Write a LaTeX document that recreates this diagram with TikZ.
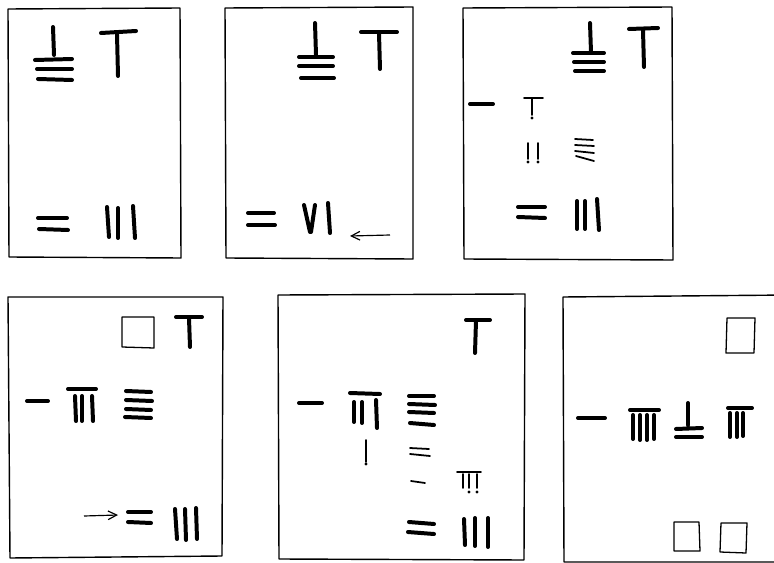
\documentclass[tikz,border=0pt]{standalone}
\usetikzlibrary{arrows.meta}
\tikzset{
  frame/.style={draw=black, line width=1.2pt, line join=round},
  rod/.style={draw=black, line width=3.4pt, line cap=round},
  thinrod/.style={draw=black, line width=1.5pt, line cap=round},
  sq/.style={draw=black, line width=1.1pt, line join=round},
  dotrod/.style={fill=black, circle, inner sep=0pt, minimum size=2.6pt},
  pointer/.style={draw=black, line width=1pt, -{Straight Barb[length=2.6mm, width=2.6mm]}},
}
\begin{document}
\begin{tikzpicture}[x=0.03cm, y=-0.03cm]
  \useasboundingbox (0,0) rectangle (774,563);
  \fill[white] (0,0) rectangle (774,563);

  \draw[frame] (8,9) -- (180,8) -- (181,258) -- (9,257) -- cycle;
  \draw[frame] (225,8) -- (413,7) -- (413,259) -- (226,258) -- cycle;
  \draw[frame] (463,8) -- (672,7) -- (673,260) -- (464,259) -- cycle;
  \draw[frame] (8,297) -- (223,297) -- (222,556) -- (10,558) -- cycle;
  \draw[frame] (278,295) -- (525,294) -- (524,560) -- (279,559) -- cycle;
  \draw[frame] (563,297) -- (790,295) -- (790,562) -- (564,562) -- cycle;

  % panel 1
  \draw[rod] (53,27) -- (54,55);
  \draw[rod] (35,60) -- (72,59) (37,69) -- (72,69) (38,79) -- (72,80);
  \draw[rod] (101,33) -- (136,31) (117,34) -- (118,76);
  \draw[rod] (38,218) -- (67,218) (39,229) -- (68,230);
  \draw[rod] (107,207) -- (109,237) (118,208) -- (118,238) (133,206) -- (135,238);

  % panel 2
  \draw[rod] (315,23) -- (316,55);
  \draw[rod] (299,57) -- (333,57) (299,66) -- (333,66) (301,78) -- (334,78);
  \draw[rod] (361,32) -- (397,32) (379,33) -- (380,69);
  \draw[rod] (248,213) -- (274,213) (248,225) -- (275,225);
  \draw[rod] (304,205) -- (310,232) (315,205) -- (311,232) (328,203) -- (330,233);
  \draw[pointer] (390,235) -- (350,236);

  % panel 3
  \draw[rod] (590,23) -- (591,52);
  \draw[rod] (573,53) -- (604,53) (574,62) -- (604,62) (575,71) -- (604,71);
  \draw[rod] (629,29) -- (658,28) (643,30) -- (644,67);
  \draw[rod] (470,104) -- (493,104);
  \draw[thinrod] (524,98) -- (543,98) (532,99) -- (532,115);
  \node[dotrod] at (532,118) {};
  \draw[thinrod] (528,143) -- (528,159) (538,143) -- (538,159);
  \node[dotrod] at (528,162) {};
  \node[dotrod] at (538,162) {};
  \draw[thinrod] (575,139) -- (593,140) (575,145) -- (594,146) (575,151) -- (594,153) (576,156) -- (594,161);
  \draw[rod] (518,207) -- (545,207) (518,217) -- (545,218);
  \draw[rod] (577,201) -- (577,229) (585,201) -- (585,229) (597,199) -- (599,230);

  % panel 4
  \draw[sq] (122,317) -- (154,317) -- (154,348) -- (122,347) -- cycle;
  \draw[rod] (176,317) -- (202,317) (189,318) -- (190,347);
  \draw[rod] (27,401) -- (48,401);
  \draw[rod] (68,389) -- (96,389);
  \draw[rod] (75,396) -- (76,421) (82,396) -- (82,421) (92,396) -- (93,421);
  \draw[rod] (126,391) -- (151,392) (126,400) -- (152,401) (126,409) -- (151,410) (125,417) -- (151,418);
  \draw[pointer] (84,516) -- (118,515);
  \draw[rod] (128,512) -- (151,512) (128,522) -- (151,523);
  \draw[rod] (175,509) -- (177,539) (185,509) -- (186,540) (196,508) -- (197,539);

  % panel 5
  \draw[rod] (466,320) -- (490,320) (476,321) -- (475,353);
  \draw[rod] (299,403) -- (322,403);
  \draw[rod] (350,393) -- (380,394);
  \draw[rod] (354,402) -- (354,422) (362,402) -- (362,423) (376,400) -- (377,428);
  \draw[rod] (409,396) -- (434,396) (409,404) -- (435,405) (409,412) -- (434,413) (410,423) -- (434,425);
  \draw[thinrod] (366,440) -- (366,462);
  \node[dotrod] at (366,464) {};
  \draw[thinrod] (410,448) -- (429,449) (410,454) -- (430,456);
  \draw[thinrod] (411,481) -- (425,483);
  \draw[thinrod] (457,472) -- (481,472) (463,474) -- (463,488) (469,474) -- (469,488) (477,474) -- (477,488);
  \node[dotrod] at (469,492) {};
  \node[dotrod] at (477,492) {};
  \draw[rod] (409,522) -- (434,524) (408,532) -- (434,534);
  \draw[rod] (464,519) -- (465,545) (475,518) -- (475,546) (488,518) -- (488,547);

  % panel 6
  \draw[sq] (727,318) -- (755,318) -- (754,353) -- (726,353) -- cycle;
  \draw[rod] (578,418) -- (605,418);
  \draw[rod] (630,410) -- (659,410);
  \draw[rod] (633,415) -- (633,439) (640,415) -- (640,440) (647,415) -- (647,440) (654,415) -- (654,439);
  \draw[rod] (688,403) -- (688,425) (676,429) -- (702,428) (676,437) -- (702,437);
  \draw[rod] (728,408) -- (752,408);
  \draw[rod] (730,413) -- (730,437) (737,413) -- (737,437) (743,413) -- (743,436);
  \draw[sq] (674,522) -- (699,522) -- (700,551) -- (674,551) -- cycle;
  \draw[sq] (721,523) -- (747,523) -- (746,553) -- (720,552) -- cycle;

\end{tikzpicture}
\end{document}
